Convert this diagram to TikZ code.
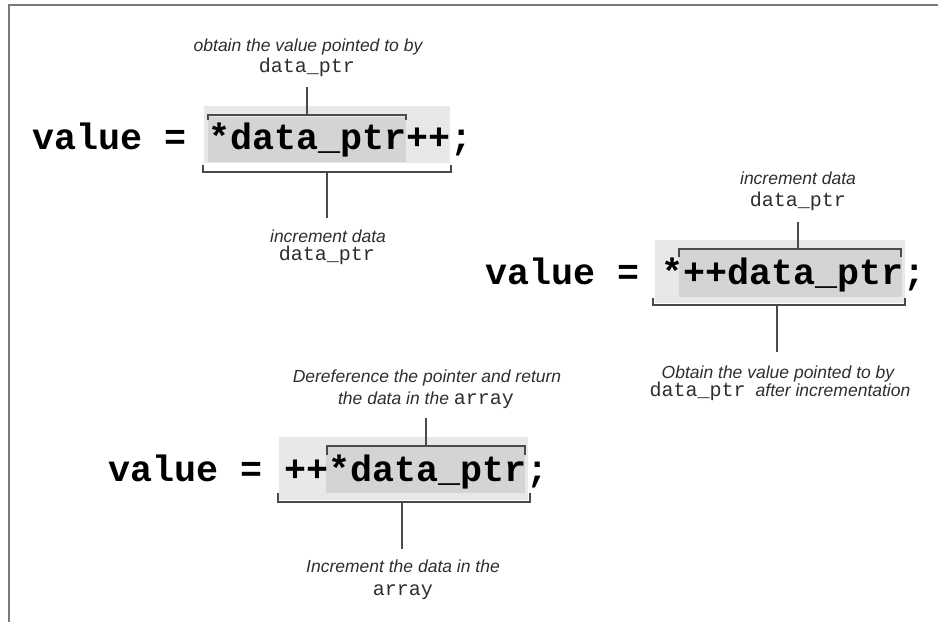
\documentclass[tikz,border=0pt]{standalone}
\usepackage{fontspec}
\setmainfont{Liberation Sans}
\newfontfamily\codefont{Liberation Mono}
\definecolor{lightbg}{HTML}{E8E8E8}
\definecolor{darkbg}{HTML}{D4D4D4}
\definecolor{linecol}{HTML}{4A4A4A}
\definecolor{labelcol}{HTML}{2E2E2E}
\definecolor{framecol}{HTML}{7A7A7A}
\newcommand{\lc}[1]{{\codefont\upshape\fontsize{20}{22}\selectfont #1}}
\begin{document}
\begin{tikzpicture}[x=1pt,y=-1pt,
  code/.style={anchor=base west, inner sep=0pt, font=\codefont\bfseries\fontsize{36.7}{40}\selectfont},
  lab/.style={anchor=base, inner sep=0pt, text=labelcol, font=\fontsize{17.5}{20}\selectfont\itshape},
  labcode/.style={anchor=base, inner sep=0pt, text=labelcol, font=\codefont\fontsize{20}{22}\selectfont},
  bracket/.style={draw=linecol, line width=1.3pt},
  lightbox/.style={fill=lightbg, anchor=north west, inner sep=0pt, outer sep=0pt},
  darkbox/.style={fill=darkbg, anchor=north west, inner sep=0pt, outer sep=0pt},
  frameline/.style={draw=framecol, line width=2pt}]
\useasboundingbox (0,0) rectangle (938,622);
% frame
\coordinate (fbl) at (9,622);
\coordinate (ftl) at (9,5);
\coordinate (ftr) at (938,5);
\draw[frameline] (fbl) -- (ftl) -- (ftr);

% ---------- group 1 ----------
\node[lightbox, minimum width=246pt, minimum height=57pt] (l1) at (204,106) {};
\node[darkbox, minimum width=198pt, minimum height=45pt] (d1) at (208,117) {};
\node[code] (code1) at (32,149) {value = *data\_ptr++;};
\draw[bracket] (208,120) -- (208,115) -- (406,115) -- (406,120);
\draw[bracket] (203,165) -- (203,172) -- (451,172) -- (451,165);
\node[lab] (lab1a) at (308,51) {obtain the value pointed to by};
\node[labcode] (lab1b) at (307,72) {data\_ptr};
\coordinate (c1a) at (307,87);
\coordinate (c1b) at (307,115);
\draw[bracket] (c1a) -- (c1b);
\coordinate (c1c) at (327,172);
\coordinate (c1d) at (327,218);
\draw[bracket] (c1c) -- (c1d);
\node[lab] (lab1c) at (328,242) {increment data};
\node[labcode] (lab1d) at (327,260) {data\_ptr};

% ---------- group 2 ----------
\node[lightbox, minimum width=250pt, minimum height=63pt] (l2) at (655,240) {};
\node[darkbox, minimum width=223pt, minimum height=47pt] (d2) at (679,250) {};
\node[code] (code2) at (485,284) {value = *++data\_ptr;};
\draw[bracket] (679,257) -- (679,249) -- (901,249) -- (901,257);
\draw[bracket] (653,298) -- (653,305) -- (905,305) -- (905,298);
\node[lab] (lab2a) at (798,184) {increment data};
\node[labcode] (lab2b) at (798,206) {data\_ptr};
\coordinate (c2a) at (798,222);
\coordinate (c2b) at (798,249);
\draw[bracket] (c2a) -- (c2b);
\coordinate (c2c) at (777,305);
\coordinate (c2d) at (777,352);
\draw[bracket] (c2c) -- (c2d);
\node[lab] (lab2c) at (778,378) {Obtain the value pointed to by};
\node[lab] (lab2d) at (780,396) {\lc{data\_ptr}\hspace{10pt}after incrementation};

% ---------- group 3 ----------
\node[lightbox, minimum width=249pt, minimum height=63pt] (l3) at (279,437) {};
\node[darkbox, minimum width=199pt, minimum height=46pt] (d3) at (326,447) {};
\node[code] (code3) at (108,481) {value = ++*data\_ptr;};
\draw[bracket] (327,455) -- (327,446) -- (525,446) -- (525,455);
\draw[bracket] (278,493) -- (278,502) -- (530,502) -- (530,493);
\node[lab] (lab3a) at (427,382) {Dereference the pointer and return};
\node[lab] (lab3b) at (426,404) {the data in the \lc{array}};
\coordinate (c3a) at (426,418);
\coordinate (c3b) at (426,446);
\draw[bracket] (c3a) -- (c3b);
\coordinate (c3c) at (402,502);
\coordinate (c3d) at (402,549);
\draw[bracket] (c3c) -- (c3d);
\node[lab] (lab3c) at (403,572) {Increment the data in the};
\node[labcode] (lab3d) at (403,595) {array};
\end{tikzpicture}
\end{document}
